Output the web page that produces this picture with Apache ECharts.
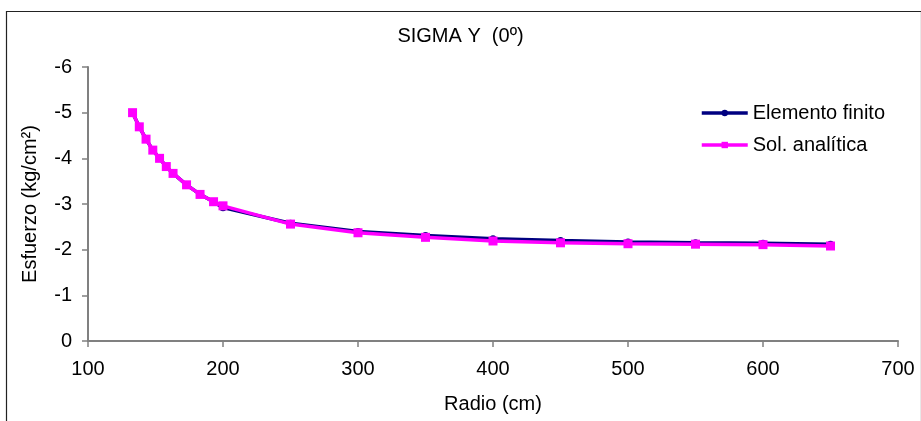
<!DOCTYPE html>
<html>
<head>
<meta charset="utf-8">
<script src="https://cdn.jsdelivr.net/npm/echarts@6/dist/echarts.min.js"></script>
<style>
html,body{margin:0;padding:0;background:#fff;}
#c{width:921px;height:421px;}
</style>
</head>
<body>
<div id="c"></div>
<script>
// Data
const radioFE = [133, 138, 143, 148, 153, 158, 163, 173, 183, 193, 200, 250, 300, 350, 400, 450, 500, 550, 600, 650];
const esfuerzoFE = [-5.0, -4.69, -4.42, -4.18, -4.0, -3.82, -3.67, -3.42, -3.21, -3.05, -2.92, -2.58, -2.40, -2.31, -2.24, -2.20, -2.17, -2.15, -2.14, -2.12];
const radioAN = [133, 138, 143, 148, 153, 158, 163, 173, 183, 193, 200, 250, 300, 350, 400, 450, 500, 550, 600, 650];
const esfuerzoAN = [-5.0, -4.69, -4.42, -4.18, -4.0, -3.82, -3.67, -3.42, -3.21, -3.05, -2.96, -2.56, -2.37, -2.27, -2.19, -2.15, -2.13, -2.12, -2.11, -2.08];
const xTicks = [100, 200, 300, 400, 500, 600, 700];
const yTicks = [0, -1, -2, -3, -4, -5, -6];
const seriesNames = ['Elemento finito', 'Sol. analítica'];
const titleText = 'SIGMA Y  (0º)';
const xName = 'Radio (cm)';
const yName = 'Esfuerzo (kg/cm²)';

const pairs = (xs, ys) => xs.map((x, i) => [x, ys[i]]);
const font = 'Liberation Sans, Arial, sans-serif';

const chart = echarts.init(document.getElementById('c'), null, {renderer: 'canvas'});
chart.setOption({
  animation: false,
  backgroundColor: '#ffffff',
  title: {
    text: titleText,
    left: 'center',
    top: 21,
    textStyle: {fontFamily: font, fontSize: 20, fontWeight: 'normal', color: '#000'}
  },
  graphic: [{
    type: 'rect',
    left: 4, top: 9,
    shape: {width: 915, height: 430},
    style: {fill: 'none', stroke: '#222', lineWidth: 1.2},
    silent: true
  }],
  legend: {
    orient: 'vertical',
    left: 695,
    top: 98,
    itemWidth: 46,
    itemHeight: 8,
    itemGap: 12,
    textStyle: {fontFamily: font, fontSize: 20, color: '#000'},
    data: [
      {name: seriesNames[0], lineStyle: {width: 3.5}},
      {name: seriesNames[1], lineStyle: {width: 3.5}}
    ]
  },
  grid: {left: 88, right: 23, top: 67, bottom: 80, containLabel: false},
  xAxis: {
    type: 'value',
    min: xTicks[0],
    max: xTicks[xTicks.length - 1],
    interval: 100,
    name: xName,
    nameLocation: 'middle',
    nameGap: 53,
    nameTextStyle: {fontFamily: font, fontSize: 20, color: '#000'},
    axisLine: {lineStyle: {color: '#808080', width: 2}},
    axisTick: {show: true, length: 6, lineStyle: {color: '#808080', width: 1.5}},
    axisLabel: {fontFamily: font, fontSize: 20, color: '#000', margin: 18},
    splitLine: {show: false}
  },
  yAxis: {
    type: 'value',
    inverse: true,
    min: yTicks[yTicks.length - 1],
    max: yTicks[0],
    interval: 1,
    name: yName,
    nameLocation: 'middle',
    nameGap: 48,
    nameTextStyle: {fontFamily: font, fontSize: 20, color: '#000'},
    axisLine: {show: true, lineStyle: {color: '#808080', width: 2}},
    axisTick: {show: true, length: 6, lineStyle: {color: '#808080', width: 1.5}},
    axisLabel: {fontFamily: font, fontSize: 20, color: '#000', margin: 16},
    splitLine: {show: false}
  },
  series: [
    {
      name: seriesNames[0],
      type: 'line',
      data: pairs(radioFE, esfuerzoFE),
      symbol: 'circle',
      symbolSize: 7,
      lineStyle: {color: '#000080', width: 3.5},
      itemStyle: {color: '#000080'},
      z: 2
    },
    {
      name: seriesNames[1],
      type: 'line',
      data: pairs(radioAN, esfuerzoAN),
      symbol: 'rect',
      symbolSize: 9,
      lineStyle: {color: '#ff00ff', width: 3.5},
      itemStyle: {color: '#ff00ff'},
      z: 3
    }
  ]
});
</script>
</body>
</html>
